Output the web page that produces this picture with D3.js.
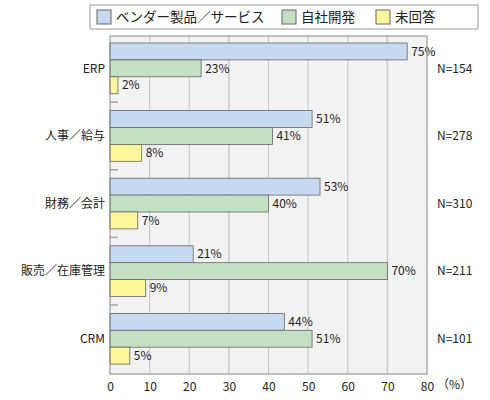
<!DOCTYPE html>
<html><head><meta charset="utf-8">
<script src="https://cdn.jsdelivr.net/npm/d3@7"></script>
<style>body{margin:0;background:#fff}text{font-family:"Noto Sans CJK JP",sans-serif;fill:#222}</style>
</head><body>
<svg id="chart" width="490" height="400"></svg>
<script>
const categories = ["ERP", "人事／給与", "財務／会計", "販売／在庫管理", "CRM"];
const vendor = [75, 51, 53, 21, 44];
const inhouse = [23, 41, 40, 70, 51];
const noAnswer = [2, 8, 7, 9, 5];
const counts = ["N=154", "N=278", "N=310", "N=211", "N=101"];
const seriesNames = ["ベンダー製品／サービス", "自社開発", "未回答"];
const colors = ["#c6d9f1", "#c3e0c3", "#fff59a"];
const xTicks = [0, 10, 20, 30, 40, 50, 60, 70, 80];

const svg = d3.select("#chart");
const x = d3.scaleLinear().domain([0, 80]).range([110, 427]);
const plotTop = 36, plotBottom = 374;
const y = d3.scaleBand().domain(categories).range([43, 43 + 5 * 67.6]);
const slot = d3.scaleBand().domain([0, 1, 2, 3]).range([0, y.bandwidth()]);

svg.append("rect").attr("x", x(0)).attr("y", plotTop).attr("width", x(80) - x(0)).attr("height", plotBottom - plotTop)
  .attr("fill", "#f2f2f2");
svg.selectAll(".grid").data(xTicks.slice(1, -1)).join("line")
  .attr("x1", d => x(d)).attr("x2", d => x(d)).attr("y1", plotTop).attr("y2", plotBottom)
  .attr("stroke", d => (d === 30 || d === 70) ? "#ccc" : "#bbb")
  .attr("stroke-width", d => (d === 30 || d === 70) ? 1.6 : 0.8);

const series = [vendor, inhouse, noAnswer];
series.forEach((vals, s) => {
  svg.selectAll(".b" + s).data(categories).join("rect")
    .attr("x", x(0)).attr("y", d => y(d) + slot(s))
    .attr("width", (d, i) => x(vals[i]) - x(0)).attr("height", slot.bandwidth())
    .attr("fill", colors[s]).attr("stroke", "#666").attr("stroke-width", 0.8);
  svg.selectAll(".l" + s).data(categories).join("text")
    .attr("x", (d, i) => x(vals[i]) + 4).attr("y", d => y(d) + slot(s) + slot.bandwidth() / 2)
    .attr("dy", "0.35em").attr("font-size", 12).text((d, i) => vals[i] + "%");
});
svg.selectAll(".dash").data(categories.slice(0, 4)).join("line")
  .attr("x1", x(0)).attr("x2", x(0) + 8)
  .attr("y1", d => y(d) + slot(3) + slot.bandwidth() / 2).attr("y2", d => y(d) + slot(3) + slot.bandwidth() / 2)
  .attr("stroke", "#aaa").attr("stroke-width", 1.5);

svg.append("rect").attr("x", x(0)).attr("y", plotTop).attr("width", x(80) - x(0)).attr("height", plotBottom - plotTop)
  .attr("fill", "none").attr("stroke", "#888");

svg.selectAll(".cat").data(categories).join("text")
  .attr("x", 105).attr("y", d => y(d) + slot(1) + slot.bandwidth() / 2).attr("dy", "0.35em")
  .attr("text-anchor", "end").attr("font-size", 12).text(d => d);
svg.selectAll(".n").data(categories).join("text")
  .attr("x", 437).attr("y", d => y(d) + slot(1) + slot.bandwidth() / 2).attr("dy", "0.35em")
  .attr("font-size", 12).text((d, i) => counts[i]);

const axis = svg.append("g").attr("transform", `translate(0,${plotBottom})`)
  .call(d3.axisBottom(x).tickValues(xTicks).tickSize(0).tickPadding(8));
axis.select(".domain").remove();
axis.selectAll("text").attr("font-size", 12).style("font-family", '"Noto Sans CJK JP",sans-serif').attr("fill", "#222");
svg.append("text").attr("x", 437).attr("y", 389).attr("font-size", 12).text("（%）");

// legend
svg.append("rect").attr("x", 90).attr("y", 5).attr("width", 388).attr("height", 24)
  .attr("fill", "#fff").attr("stroke", "#999");
const legX = [97, 282, 376];
seriesNames.forEach((name, s) => {
  svg.append("rect").attr("x", legX[s]).attr("y", 10).attr("width", 14).attr("height", 14)
    .attr("fill", colors[s]).attr("stroke", "#666");
  svg.append("text").attr("x", legX[s] + 19).attr("y", 17).attr("dy", "0.35em")
    .attr("font-size", 13.5).text(name);
});
</script>
</body></html>
